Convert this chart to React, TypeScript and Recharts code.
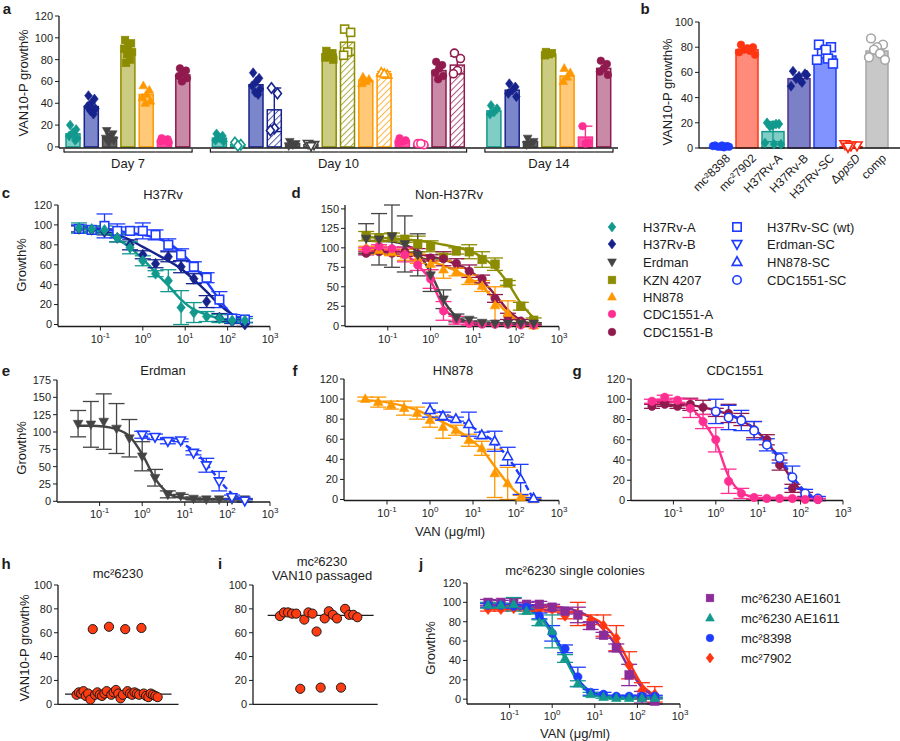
import React from 'react';
import { ComposedChart, Bar, Line, XAxis, YAxis, ErrorBar, ReferenceLine } from 'recharts';

const FONT = '"Liberation Sans", Arial, Helvetica, sans-serif';
const INK = '#1c1c1c';

// vancomycin concentrations (ug/ml), 2-fold dilutions
const DOSES = [0.03125, 0.0625, 0.125, 0.25, 0.5, 1, 2, 4, 8, 16, 32, 64, 128, 256];
const SC_DOSES = [1, 2, 4, 8, 16, 32, 64, 128, 256];
const LOG_TICKS = [0.1, 1, 10, 100, 1000];
const TICKS_100 = [0, 20, 40, 60, 80, 100];
const TICKS_120 = [0, 20, 40, 60, 80, 100, 120];
const TICKS_150 = [0, 25, 50, 75, 100, 125, 150];
const TICKS_175 = [0, 25, 50, 75, 100, 125, 150, 175];

// ---- panel a: VAN10-P growth by day ----
const DAY7_STRAIN = ['A', 'B', 'E', 'K', 'H', 'CA', 'CB'];
const DAY7_KIND = ['fill', 'fill', 'fill', 'fill', 'fill', 'fill', 'fill'];
const DAY7_MEAN = [12, 37, 9, 88, 48, 6, 66];
const DAY7_SD = [null, null, null, null, null, null, null];
const DAY7_REPS = [
  [20, 16, 13, 10, 8, 12, 6],
  [47, 44, 40, 37, 35, 33, 30, 38],
  [15, 12, 10, 8, 6, 4],
  [98, 95, 92, 90, 87, 85, 80, 77],
  [56, 52, 48, 45, 42, 40],
  [8, 7, 6, 5, 4],
  [72, 70, 68, 65, 63, 60],
];
const DAY10_STRAIN = ['A', 'A', 'B', 'B', 'E', 'E', 'K', 'K', 'H', 'H', 'CA', 'CA', 'CB', 'CB'];
const DAY10_KIND = ['fill', 'open', 'fill', 'hatch', 'fill', 'open', 'fill', 'hatch', 'fill', 'hatch', 'fill', 'open', 'fill', 'hatch'];
const DAY10_MEAN = [8, 2, 57, 34, 3, 2, 85, 96, 61, 67, 6, 2, 70, 75];
const DAY10_SD = [null, null, null, 20, null, null, null, 12, null, 2, null, null, null, 8];
const DAY10_REPS = [
  [12, 10, 8, 6, 5],
  [4, 2, 1],
  [68, 63, 60, 56, 53, 50, 48],
  [54, 49, 17, 15],
  [5, 3, 2, 1],
  [3, 2, 1],
  [88, 86, 84, 82, 80],
  [108, 105, 87, 84],
  [64, 62, 60, 58],
  [68, 66, 67],
  [8, 6, 5, 4],
  [3, 2, 3],
  [78, 75, 72, 68, 65, 62],
  [86, 81, 70, 67],
];
const DAY14_STRAIN = ['A', 'B', 'E', 'K', 'H', 'CA', 'CB'];
const DAY14_KIND = ['fill', 'fill', 'fill', 'fill', 'fill', 'fill', 'fill'];
const DAY14_MEAN = [33, 52, 5, 85, 65, 9, 72];
const DAY14_SD = [null, null, null, null, null, 10, null];
const DAY14_REPS = [
  [38, 35, 32, 30],
  [58, 55, 52, 49, 46],
  [8, 5, 3, 2],
  [87, 86, 85, 84],
  [72, 68, 64, 60],
  [19, 4, 3],
  [79, 76, 72, 69, 66],
];

// ---- panel b ----
const B_CATS = ['mc²8398', 'mc²7902', 'H37Rv-A', 'H37Rv-B', 'H37Rv-SC', 'ΔppsD', 'comp'];
const B_MEAN = [1, 78, 13, 55, 73, 1, 77];
const B_SD = [null, null, 8, null, null, null, null];
const B_REPS = [
  [2, 1.5, 1, 1, 0.5, 1.5, 1, 2],
  [82, 80, 79, 78, 77, 76, 74, 79],
  [20, 19, 18, 17, 19, 4, 3, 3],
  [61, 59, 57, 55, 52, 49, 58, 54],
  [82, 80, 77, 75, 71, 70, 67, 78],
  [3, 2, 2, 1],
  [87, 82, 80, 78, 75, 72, 70],
];

// ---- dose-response series (mean, SD, fitted curve) ----
const H37RV_A_MEAN = [97, 96, 95, 87, 77, 64, 51, 44, 17, 12, 8, 6, 4, 4];
const H37RV_A_SD = [5, 3, 4, 4, 6, 5, 3, 11, 17, 10, 5, 4, 2, 2];
const H37RV_A_FIT = [96, 95, 92, 86, 77, 66, 52, 39, 25, 15, 10, 6, 4, 4];
const H37RV_B_MEAN = [96, 95, 93, 87, 80, 70, 61, 68, 58, 46, 23, 7, 3, 0];
const H37RV_B_SD = [3, 3, 3, 4, 5, 4, 4, 5, 6, 5, 6, 4, 2, 2];
const H37RV_B_FIT = [96, 95, 93, 90, 85, 78, 71, 64, 56, 45, 33, 20, 10, 3];
const H37RV_SC_MEAN = [96, 95, 99, 94, 94, 94, 90, 80, 70, 58, 47, 25, 6, 5];
const H37RV_SC_SD = [4, 3, 12, 7, 4, 8, 5, 6, 6, 5, 5, 8, 4, 3];
const H37RV_SC_FIT = [96, 96, 95, 94, 92, 90, 87, 82, 72, 59, 43, 25, 10, 4];
const ERDMAN_MEAN = [112, 111, 115, 105, 91, 65, 34, 10, 8, 4, 3, 3, 3, 3];
const ERDMAN_SD = [19, 33, 40, 36, 27, 21, 12, 5, 2, 2, 1, 1, 1, 1];
const ERDMAN_FIT = [109, 109, 108, 104, 94, 68, 33, 12, 5, 3, 3, 3, 3, 3];
const ERDMAN_SC_MEAN = [96, 93, 87, 88, 70, 52, 29, 6, 1];
const ERDMAN_SC_SD = [5, 4, 4, 2, 3, 10, 14, 3, 2];
const ERDMAN_SC_FIT = [94, 92, 89, 84, 73, 54, 31, 11, 2];
const KZN_MEAN = [115, 113, 114, 111, 105, 102, 88, 96, 95, 85, 79, 55, 25, 7];
const KZN_SD = [6, 5, 5, 4, 10, 7, 4, 4, 9, 10, 8, 3, 5, 3];
const KZN_FIT = [114, 113, 112, 111, 109, 107, 104, 101, 96, 88, 75, 55, 29, 10];
const HN878_MEAN = [100, 97, 94, 91, 86, 79, 72, 69, 59, 51, 26, 16, 2, 0];
const HN878_SD = [2, 5, 4, 7, 6, 7, 11, 5, 6, 7, 24, 16, 2, 1];
const HN878_FIT = [99, 98, 96, 93, 89, 83, 77, 70, 61, 50, 33, 16, 4, 0];
const HN878_SC_MEAN = [89, 83, 80, 75, 64, 58, 43, 20, 1];
const HN878_SC_SD = [7, 4, 2, 12, 3, 10, 9, 15, 1];
const HN878_SC_FIT = [90, 86, 80, 74, 66, 57, 42, 23, 0];
const CDC_A_MEAN = [98, 102, 99, 91, 78, 60, 19, 7, 3, 2, 2, 2, 1, 1];
const CDC_A_SD = [2, 2, 2, 9, 7, 12, 12, 5, 2, 1, 1, 1, 1, 1];
const CDC_A_FIT = [98, 98, 97, 92, 78, 58, 24, 8, 3, 1, 1, 1, 1, 1];
const CDC_B_MEAN = [93, 95, 93, 95, 92, 87, 86, 80, 70, 60, 35, 12, 6, 1];
const CDC_B_SD = [2, 2, 2, 6, 7, 4, 9, 6, 8, 5, 5, 4, 2, 1];
const CDC_B_FIT = [95, 95, 94, 94, 92, 89, 85, 79, 71, 58, 40, 20, 7, 2];
const CDC_SC_MEAN = [88, 82, 79, 69, 55, 42, 23, 7, 2];
const CDC_SC_SD = [12, 12, 10, 9, 6, 5, 11, 4, 2];
const CDC_SC_FIT = [89, 85, 80, 71, 58, 42, 24, 9, 2];
const AE1601_MEAN = [100, 100, 99, 98, 98, 95, 91, 87, 76, 66, 53, 25, 2, -2];
const AE1601_SD = [3, 2, 5, 2, 3, 3, 3, 8, 4, 3, 4, 11, 6, 3];
const AE1601_FIT = [98, 98, 98, 97, 97, 96, 94, 91, 84, 72, 55, 32, 12, 3];
const AE1611_MEAN = [97, 97, 98, 91, 79, 70, 42, 16, 5, 2, 1, 1, 1, 1];
const AE1611_SD = [3, 2, 7, 3, 3, 17, 4, 3, 2, 1, 1, 1, 1, 1];
const AE1611_FIT = [97, 97, 96, 93, 85, 67, 42, 18, 6, 2, 1, 1, 1, 1];
const MC8398_MEAN = [97, 97, 96, 95, 86, 68, 52, 23, 7, 5, 3, 3, 3, 3];
const MC8398_SD = [2, 2, 2, 2, 3, 8, 4, 10, 3, 2, 1, 1, 1, 1];
const MC8398_FIT = [97, 97, 96, 94, 87, 70, 45, 21, 8, 4, 3, 3, 3, 3];
const MC7902_MEAN = [93, 93, 94, 93, 93, 93, 86, 88, 82, 76, 63, 35, 9, 5];
const MC7902_SD = [2, 2, 2, 2, 2, 3, 3, 12, 5, 11, 13, 14, 8, 8];
const MC7902_FIT = [93, 93, 93, 93, 93, 92, 91, 89, 85, 77, 62, 38, 15, 4];

// ---- panels h, i: single colony VAN10-P growth ----
const H_VALUES = [8, 10, 9, 11, 7, 9, 4, 63, 8, 10, 8, 7, 9, 11, 65, 8, 10, 12, 9, 5, 8, 63, 11, 9, 8, 10, 9, 8, 64, 9, 7, 6, 9, 8, 7, 6];
const H_MEDIAN = 8.5;
const I_VALUES = [74, 77, 77, 76, 76, 13, 71, 77, 76, 61, 14, 72, 78, 75, 72, 14, 80, 75, 75, 73];
const I_MEDIAN = 74.5;

const BLUE = '#1e3cff';
const STRAIN: Record<string, any> = {
  A: { color: '#12998d', light: '#80cdc6', shape: 'diamond' },
  B: { color: '#17238c', light: '#7c86cb', shape: 'diamond' },
  E: { color: '#444444', light: '#666666', shape: 'triDown' },
  K: { color: '#8c8c00', light: '#cbcb82', shape: 'square' },
  H: { color: '#ff9800', light: '#ffc978', shape: 'triangle' },
  CA: { color: '#ff2f92', light: '#ff5aa8', shape: 'circle' },
  CB: { color: '#901a4e', light: '#c98aa8', shape: 'circle' },
};
const B_STYLE = [
  { color: BLUE, light: '#7088ff', shape: 'circle', open: false },
  { color: '#ff3512', light: '#ff8b7a', shape: 'circle', open: false },
  { color: '#12998d', light: '#80cdc6', shape: 'diamond', open: false },
  { color: '#17238c', edge: '#4c3391', light: '#7c80c6', shape: 'diamond', open: false },
  { color: BLUE, light: '#8093ff', shape: 'square', open: true },
  { color: '#ff2a10', light: '#ffb4a6', shape: 'triDown', open: true },
  { color: '#a6a6a6', light: '#c8c8c8', shape: 'circle', open: true },
];

const mk = (id: string, doses: number[], mean: number[], sd: number[], fit: number[], color: string, shape: string, open = false) =>
  ({ id, doses, mean, sd, fit, color, shape, open });

const H37RV_A = mk('h37a', DOSES, H37RV_A_MEAN, H37RV_A_SD, H37RV_A_FIT, STRAIN.A.color, 'diamond');
const H37RV_B = mk('h37b', DOSES, H37RV_B_MEAN, H37RV_B_SD, H37RV_B_FIT, STRAIN.B.color, 'diamond');
const H37RV_SC = mk('h37sc', DOSES, H37RV_SC_MEAN, H37RV_SC_SD, H37RV_SC_FIT, BLUE, 'square', true);
const ERDMAN = mk('erd', DOSES, ERDMAN_MEAN, ERDMAN_SD, ERDMAN_FIT, STRAIN.E.color, 'triDown');
const ERDMAN_SC = mk('erdsc', SC_DOSES, ERDMAN_SC_MEAN, ERDMAN_SC_SD, ERDMAN_SC_FIT, BLUE, 'triDown', true);
const KZN = mk('kzn', DOSES, KZN_MEAN, KZN_SD, KZN_FIT, STRAIN.K.color, 'square');
const HN878 = mk('hn', DOSES, HN878_MEAN, HN878_SD, HN878_FIT, STRAIN.H.color, 'triangle');
const HN878_SC = mk('hnsc', SC_DOSES, HN878_SC_MEAN, HN878_SC_SD, HN878_SC_FIT, BLUE, 'triangle', true);
const CDC_A = mk('cdca', DOSES, CDC_A_MEAN, CDC_A_SD, CDC_A_FIT, STRAIN.CA.color, 'circle');
const CDC_B = mk('cdcb', DOSES, CDC_B_MEAN, CDC_B_SD, CDC_B_FIT, STRAIN.CB.color, 'circle');
const CDC_SC = mk('cdcsc', SC_DOSES, CDC_SC_MEAN, CDC_SC_SD, CDC_SC_FIT, BLUE, 'circle', true);
const AE1601 = mk('ae01', DOSES, AE1601_MEAN, AE1601_SD, AE1601_FIT, '#8b2c99', 'square');
const AE1611 = mk('ae11', DOSES, AE1611_MEAN, AE1611_SD, AE1611_FIT, '#12998d', 'triangle');
const MC8398 = mk('m98', DOSES, MC8398_MEAN, MC8398_SD, MC8398_FIT, BLUE, 'circle');
const MC7902 = mk('m02', DOSES, MC7902_MEAN, MC7902_SD, MC7902_FIT, '#ff3512', 'diamond');

function Marker({ cx, cy, shape, color, open = false, s = 4.2, sw }: any) {
  const common = { fill: open ? '#ffffff' : color, stroke: color, strokeWidth: sw ?? (open ? 1.6 : 0.6) };
  if (shape === 'circle') return <circle cx={cx} cy={cy} r={s} {...common} />;
  if (shape === 'square') return <rect x={cx - s} y={cy - s} width={2 * s} height={2 * s} {...common} />;
  let pts: number[][];
  if (shape === 'diamond') pts = [[0, -1.3], [1, 0], [0, 1.3], [-1, 0]];
  else if (shape === 'triangle') pts = [[0, -1.25], [1.15, 0.8], [-1.15, 0.8]];
  else pts = [[0, 1.25], [1.15, -0.8], [-1.15, -0.8]];
  return <polygon points={pts.map(([a, b]) => `${cx + a * s},${cy + b * s}`).join(' ')} {...common} />;
}

const Txt = ({ x, y, children, size = 13, bold = false, rotate = false, left = false }: any) => (
  <div
    style={{
      position: 'absolute', left: x, top: y, fontSize: size, fontWeight: bold ? 700 : 400,
      transform: `translate(${left ? '0' : '-50%'},-50%)${rotate ? ' rotate(-90deg)' : ''}`,
      whiteSpace: 'nowrap', lineHeight: 1, color: INK, fontFamily: FONT,
    }}
  >
    {children}
  </div>
);

const LegendItem = ({ x, tx, y, shape, color, open, label }: any) => (
  <>
    <svg style={{ position: 'absolute', left: x - 7, top: y - 7 }} width={14} height={14}>
      <Marker cx={7} cy={7} shape={shape} color={color} open={open} s={open ? 4.2 : 3.8} />
    </svg>
    <Txt x={tx} y={y} left>{label}</Txt>
  </>
);

const tickStyle = { fontSize: 11, fill: INK, fontFamily: FONT };
const axisLine = { stroke: INK, strokeWidth: 1.3 };

const LogTick = ({ x, y, payload }: any) => (
  <text x={x} y={y + 10} textAnchor="middle" fontSize={11} fill={INK} fontFamily={FONT}>
    10<tspan dy={-5} fontSize={8}>{Math.round(Math.log10(payload.value))}</tspan>
  </text>
);

// ---------- panel a ----------
const A_ROWS: any[] = [];
function addDay(day: string, means: number[], sds: any[], reps: number[][], strains: string[], kinds: string[]) {
  means.forEach((m, i) => {
    const row: any = { cat: `${day}#${i}`, day, gi: i, gn: means.length, mean: m, sd: sds[i] ?? undefined, strain: strains[i], kind: kinds[i] };
    reps[i].forEach((v, j) => { row[`r${j}`] = v; });
    A_ROWS.push(row);
  });
}
addDay('Day 7', DAY7_MEAN, DAY7_SD, DAY7_REPS, DAY7_STRAIN, DAY7_KIND);
A_ROWS.push({ cat: 'gap-1' });
addDay('Day 10', DAY10_MEAN, DAY10_SD, DAY10_REPS, DAY10_STRAIN, DAY10_KIND);
A_ROWS.push({ cat: 'gap-2' });
addDay('Day 14', DAY14_MEAN, DAY14_SD, DAY14_REPS, DAY14_STRAIN, DAY14_KIND);

const REP_KEYS = ['r0', 'r1', 'r2', 'r3', 'r4', 'r5', 'r6', 'r7'];
const A_JIT = [-3, 3, 0, -4, 4, -1, 2, -2];
const B_JIT = [-6, 6, 0, -3, 3, -8, 8, 1];

const dayTick = (p: any) => {
  const row = A_ROWS[p.index];
  if (!row || !row.day) return <g />;
  const half = p.payload?.offset || 9.15;
  const y = p.y + 2;
  const x0 = p.x - half;
  const x1 = p.x + half;
  return (
    <g>
      <line x1={x0} x2={x1} y1={y} y2={y} stroke={INK} strokeWidth={1.2} />
      {row.gi === 0 && <line x1={x0} x2={x0} y1={y + 0.6} y2={y - 3} stroke={INK} strokeWidth={1.2} />}
      {row.gi === row.gn - 1 && <line x1={x1} x2={x1} y1={y + 0.6} y2={y - 3} stroke={INK} strokeWidth={1.2} />}
      {row.gi === 0 && (
        <text x={x0 + row.gn * half} y={y + 16} textAnchor="middle" fontSize={13} fill={INK} fontFamily={FONT}>{row.day}</text>
      )}
    </g>
  );
};

const aBar = (p: any) => {
  const r = p.payload;
  if (!r || !r.strain || !Number.isFinite(p.height)) return <g />;
  const st = STRAIN[r.strain];
  const fill = r.kind === 'fill' ? st.light : r.kind === 'hatch' ? `url(#hatch-${r.strain})` : '#ffffff';
  return <rect x={p.x} y={p.y} width={p.width} height={Math.max(p.height, 0)} fill={fill} stroke={st.color} strokeWidth={1.5} />;
};

const aDot = (j: number) => (p: any) => {
  const r = p.payload;
  const k = `a${j}-${p.index}`;
  if (!r || r[`r${j}`] == null || p.cy == null || !Number.isFinite(p.cy)) return <g key={k} />;
  const st = STRAIN[r.strain];
  return <Marker key={k} cx={p.cx + A_JIT[j]} cy={p.cy} shape={st.shape} color={st.color} open={r.kind !== 'fill'} s={r.kind === 'fill' ? 3.8 : 4} />;
};

function PanelA() {
  return (
    <div style={{ position: 'absolute', left: 0, top: 0 }}>
      <ComposedChart width={625} height={178} data={A_ROWS} margin={{ top: 16, right: 7, bottom: 0, left: 0 }} barSize={14}>
        <defs>
          {['B', 'K', 'H', 'CB'].map((k) => (
            <pattern key={k} id={`hatch-${k}`} patternUnits="userSpaceOnUse" width={4.5} height={4.5} patternTransform="rotate(45)">
              <rect width={4.5} height={4.5} fill="#ffffff" />
              <line x1={0} y1={0} x2={0} y2={4.5} stroke={STRAIN[k].color} strokeOpacity={0.75} strokeWidth={2} />
            </pattern>
          ))}
        </defs>
        <XAxis dataKey="cat" type="category" interval={0} tickLine={false} tickSize={0} height={30} padding={{ left: 5, right: 5 }} axisLine={axisLine} tick={dayTick} />
        <YAxis type="number" domain={() => [0, 120]} ticks={TICKS_120} interval={0} width={59} tickSize={4} tick={tickStyle} axisLine={axisLine} tickLine={{ stroke: INK }} />
        <Bar dataKey="mean" shape={aBar} isAnimationActive={false}>
          {Object.keys(STRAIN).map((k) => (
            <ErrorBar key={k} dataKey={(r: any) => (r.strain === k ? r.sd : undefined)} width={7} stroke={STRAIN[k].color} strokeWidth={1.4} direction="y" />
          ))}
        </Bar>
        {REP_KEYS.map((key, j) => (
          <Line key={key} dataKey={key} stroke="none" dot={aDot(j)} activeDot={false} isAnimationActive={false} />
        ))}
      </ComposedChart>
    </div>
  );
}

// ---------- panel b ----------
const B_ROWS = B_CATS.map((cat, i) => {
  const row: any = { cat, mean: B_MEAN[i], sd: B_SD[i] ?? undefined, st: i };
  B_REPS[i].forEach((v, j) => { row[`r${j}`] = v; });
  return row;
});

const bTick = ({ x, y, payload }: any) => (
  <text transform={`translate(${x + 7},${y + 2}) rotate(-45)`} textAnchor="end" dy="0.35em" fontSize={12} fill={INK} fontFamily={FONT}>
    {payload.value === 'ΔppsD' ? (
      <>
        <tspan>Δ</tspan>
        <tspan fontStyle="italic">ppsD</tspan>
      </>
    ) : payload.value}
  </text>
);

const bBar = (p: any) => {
  const r = p.payload;
  if (!r || !Number.isFinite(p.height)) return <g />;
  const st = B_STYLE[r.st];
  return <rect x={p.x} y={p.y} width={p.width} height={Math.max(p.height, 0)} fill={st.light} stroke={st.edge ?? st.color} strokeWidth={1.5} />;
};

const bDot = (j: number) => (p: any) => {
  const r = p.payload;
  const k = `b${j}-${p.index}`;
  if (!r || r[`r${j}`] == null || p.cy == null || !Number.isFinite(p.cy)) return <g key={k} />;
  const st = B_STYLE[r.st];
  return <Marker key={k} cx={p.cx + B_JIT[j]} cy={p.cy} shape={st.shape} color={st.color} open={st.open} s={st.open ? 4.4 : 3.8} />;
};

function PanelB() {
  return (
    <div style={{ position: 'absolute', left: 640, top: 0 }}>
      <ComposedChart width={260} height={208} data={B_ROWS} margin={{ top: 22, right: 0, bottom: 0, left: 0 }} barSize={22}>
        <XAxis dataKey="cat" type="category" interval={0} tickSize={4} height={60} padding={{ left: 9, right: 10 }} axisLine={axisLine} tickLine={false} tick={bTick} />
        <YAxis type="number" domain={() => [0, 100]} ticks={TICKS_100} interval={0} width={59} tickSize={4} tick={tickStyle} axisLine={axisLine} tickLine={{ stroke: INK }} />
        <Bar dataKey="mean" shape={bBar} isAnimationActive={false}>
          <ErrorBar dataKey="sd" width={8} stroke="#12998d" strokeWidth={1.4} direction="y" />
        </Bar>
        {REP_KEYS.map((key, j) => (
          <Line key={key} dataKey={key} stroke="none" dot={bDot(j)} activeDot={false} isAnimationActive={false} />
        ))}
      </ComposedChart>
    </div>
  );
}

// ---------- dose-response panels ----------
function buildRows(series: any[]) {
  const rows: any[] = DOSES.map((d) => ({ dose: d }));
  series.forEach((s) => {
    s.doses.forEach((d: number, i: number) => {
      const row = rows.find((r) => r.dose === d);
      row[`${s.id}_m`] = s.mean[i];
      row[`${s.id}_s`] = s.sd[i];
      row[`${s.id}_f`] = s.fit[i];
    });
  });
  return rows;
}

const seriesDot = (s: any) => (p: any) => {
  const k = `${s.id}-${p.index}`;
  if (p.value == null || p.cy == null || !Number.isFinite(p.cy)) return <g key={k} />;
  return <Marker key={k} cx={p.cx} cy={p.cy} shape={s.shape} color={s.color} open={s.open} s={s.shape === 'square' ? 4.3 : 4.2} />;
};

function DoseChart({ box, series, yMax, yTicks, dashed = [] }: any) {
  const YW = 40, XH = 26, MT = 8, MR = 12;
  const left = box.l - YW;
  const top = box.t - MT;
  const width = box.r - left + MR;
  const height = box.b - top + XH;
  const rows = buildRows(series);
  return (
    <div style={{ position: 'absolute', left, top }}>
      <ComposedChart width={width} height={height} data={rows} margin={{ top: MT, right: MR, bottom: 0, left: 0 }}>
        <XAxis dataKey="dose" type="number" scale="log" domain={[0.01, 1000]} allowDataOverflow ticks={LOG_TICKS} interval={0} tick={LogTick} tickSize={4} height={XH} axisLine={axisLine} tickLine={{ stroke: INK }} />
        <YAxis type="number" domain={() => [0, yMax]} ticks={yTicks} interval={0} width={YW} tickSize={4} tick={tickStyle} axisLine={axisLine} tickLine={{ stroke: INK }} />
        {series.map((s: any) => (
          <Line key={`${s.id}-fit`} dataKey={`${s.id}_f`} type="monotone" stroke={s.color} strokeWidth={2.4} strokeDasharray={dashed.includes(s.id) ? '6 3' : undefined} dot={false} activeDot={false} isAnimationActive={false} />
        ))}
        {series.map((s: any) => (
          <Line key={`${s.id}-pts`} dataKey={`${s.id}_m`} stroke="none" dot={seriesDot(s)} activeDot={false} isAnimationActive={false}>
            <ErrorBar dataKey={`${s.id}_s`} width={8} stroke={s.color} strokeWidth={1.3} direction="y" />
          </Line>
        ))}
      </ComposedChart>
    </div>
  );
}

// ---------- h / i ----------
const redDot = (p: any) => {
  const k = `h-${p.index}`;
  if (p.cy == null || !Number.isFinite(p.cy)) return <g key={k} />;
  return <circle key={k} cx={p.cx} cy={p.cy} r={4.6} fill="#ff3b12" stroke="#1a1a1a" strokeWidth={1} />;
};

function StripChart({ box, values, median, xDomain, seg }: any) {
  const YW = 40, MT = 8, MR = 4, XH = 12;
  const left = box.l - YW;
  const top = box.t - MT;
  const rows = values.map((v: number, i: number) => ({ i, v }));
  return (
    <div style={{ position: 'absolute', left, top }}>
      <ComposedChart width={box.r - left + MR} height={box.b - top + XH} data={rows} margin={{ top: MT, right: MR, bottom: 0, left: 0 }}>
        <XAxis dataKey="i" type="number" domain={xDomain} allowDataOverflow tick={false} tickLine={false} height={XH} axisLine={axisLine} />
        <YAxis type="number" domain={() => [0, 100]} ticks={TICKS_100} interval={0} width={YW} tickSize={4} tick={tickStyle} axisLine={axisLine} tickLine={{ stroke: INK }} />
        <Line dataKey="v" stroke="none" dot={redDot} activeDot={false} isAnimationActive={false} />
        <ReferenceLine segment={[{ x: seg[0], y: median }, { x: seg[1], y: median }]} stroke={INK} strokeWidth={1.3} />
      </ComposedChart>
    </div>
  );
}

const VAN = <>VAN (μg/ml)</>;

export default function App() {
  return (
    <div style={{ position: 'absolute', left: 0, top: 0, width: 900, height: 741, background: '#fff', fontFamily: FONT, color: INK }}>
      <PanelA />
      <PanelB />

      <DoseChart box={{ l: 58, t: 205, r: 270, b: 326.5 }} series={[H37RV_SC, H37RV_B, H37RV_A]} yMax={120} yTicks={TICKS_120} />
      <DoseChart box={{ l: 345, t: 205, r: 559, b: 326.5 }} series={[KZN, CDC_B, HN878, CDC_A, ERDMAN]} yMax={150} yTicks={TICKS_150} />
      <DoseChart box={{ l: 57, t: 379.5, r: 270, b: 501.5 }} series={[ERDMAN, ERDMAN_SC]} yMax={175} yTicks={TICKS_175} dashed={['erdsc']} />
      <DoseChart box={{ l: 343.5, t: 378.5, r: 558.5, b: 500 }} series={[HN878, HN878_SC]} yMax={120} yTicks={TICKS_120} dashed={['hnsc']} />
      <DoseChart box={{ l: 631, t: 379, r: 843, b: 500.5 }} series={[CDC_B, CDC_SC, CDC_A]} yMax={120} yTicks={TICKS_120} dashed={['cdcsc']} />
      <DoseChart box={{ l: 467, t: 583, r: 680, b: 704 }} series={[MC7902, AE1601, MC8398, AE1611]} yMax={120} yTicks={TICKS_120} />

      <StripChart box={{ l: 57.5, t: 585, r: 178, b: 704.3 }} values={H_VALUES} median={H_MEDIAN} xDomain={[-8, 44]} seg={[-5, 41]} />
      <StripChart box={{ l: 253.3, t: 585, r: 378, b: 704.3 }} values={I_VALUES} median={I_MEDIAN} xDomain={[-6.6, 24]} seg={[-3, 23]} />

      {/* panel letters */}
      <Txt x={7} y={8} size={15} bold>a</Txt>
      <Txt x={645} y={8} size={15} bold>b</Txt>
      <Txt x={6} y={192} size={15} bold>c</Txt>
      <Txt x={296} y={192} size={15} bold>d</Txt>
      <Txt x={6} y={370} size={15} bold>e</Txt>
      <Txt x={295} y={370} size={15} bold>f</Txt>
      <Txt x={577} y={370} size={15} bold>g</Txt>
      <Txt x={6} y={563} size={15} bold>h</Txt>
      <Txt x={220} y={563} size={15} bold>i</Txt>
      <Txt x={421} y={563} size={15} bold>j</Txt>

      {/* titles */}
      <Txt x={163} y={194}>H37Rv</Txt>
      <Txt x={449} y={194}>Non-H37Rv</Txt>
      <Txt x={163} y={370}>Erdman</Txt>
      <Txt x={453} y={370}>HN878</Txt>
      <Txt x={735} y={370}>CDC1551</Txt>
      <Txt x={118} y={573}>mc²6230</Txt>
      <Txt x={322} y={561}>mc²6230</Txt>
      <Txt x={322} y={575}>VAN10 passaged</Txt>
      <Txt x={575} y={570}>mc²6230 single colonies</Txt>

      {/* axis titles */}
      <Txt x={23} y={83} rotate>VAN10-P growth%</Txt>
      <Txt x={667} y={92} rotate>VAN10-P growth%</Txt>
      <Txt x={21} y={265} rotate>Growth%</Txt>
      <Txt x={21} y={448} rotate>Growth%</Txt>
      <Txt x={24} y={648} rotate>VAN10-P growth%</Txt>
      <Txt x={430} y={648} rotate>Growth%</Txt>
      <Txt x={450} y={531}>{VAN}</Txt>
      <Txt x={575} y={733}>{VAN}</Txt>

      {/* legend c-g */}
      <LegendItem x={612} tx={643} y={227} shape="diamond" color={STRAIN.A.color} label="H37Rv-A" />
      <LegendItem x={612} tx={643} y={244} shape="diamond" color={STRAIN.B.color} label="H37Rv-B" />
      <LegendItem x={612} tx={643} y={262} shape="triDown" color={STRAIN.E.color} label="Erdman" />
      <LegendItem x={612} tx={643} y={280} shape="square" color={STRAIN.K.color} label="KZN 4207" />
      <LegendItem x={612} tx={643} y={297} shape="triangle" color={STRAIN.H.color} label="HN878" />
      <LegendItem x={612} tx={643} y={314} shape="circle" color={STRAIN.CA.color} label="CDC1551-A" />
      <LegendItem x={612} tx={643} y={332} shape="circle" color={STRAIN.CB.color} label="CDC1551-B" />
      <LegendItem x={737} tx={767} y={227} shape="square" color={BLUE} open label="H37Rv-SC (wt)" />
      <LegendItem x={737} tx={767} y={244} shape="triDown" color={BLUE} open label="Erdman-SC" />
      <LegendItem x={737} tx={767} y={262} shape="triangle" color={BLUE} open label="HN878-SC" />
      <LegendItem x={737} tx={767} y={280} shape="circle" color={BLUE} open label="CDC1551-SC" />

      {/* legend j */}
      <LegendItem x={710} tx={741} y={598} shape="square" color={AE1601.color} label="mc²6230 AE1601" />
      <LegendItem x={710} tx={741} y={618} shape="triangle" color={AE1611.color} label="mc²6230 AE1611" />
      <LegendItem x={710} tx={741} y={638} shape="circle" color={MC8398.color} label="mc²8398" />
      <LegendItem x={710} tx={741} y={658} shape="diamond" color={MC7902.color} label="mc²7902" />
    </div>
  );
}
